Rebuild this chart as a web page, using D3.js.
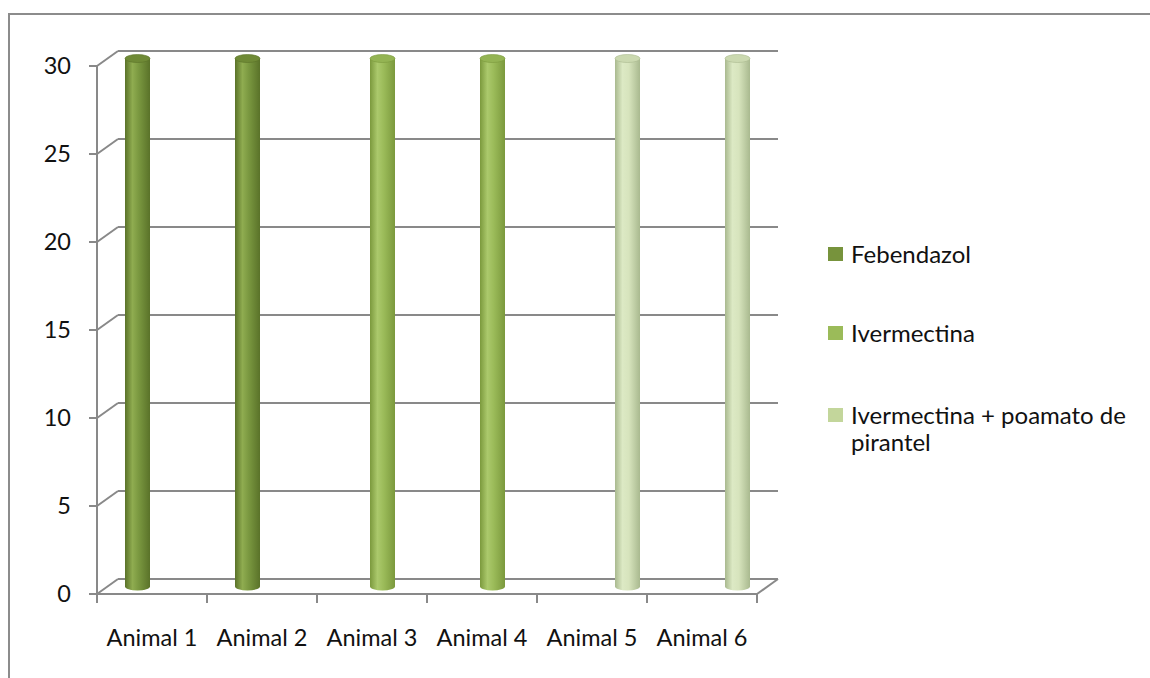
<!DOCTYPE html>
<html>
<head>
<meta charset="utf-8">
<script src="https://cdn.jsdelivr.net/npm/d3@7"></script>
<style>
  html, body { margin: 0; padding: 0; background: #fff; }
  svg { display: block; }
  text { font-family: Lato, "Open Sans", sans-serif; fill: #111; }
</style>
</head>
<body>
<svg id="chart" width="1150" height="678"></svg>
<script>
// ---- data ----
const categories = ["Animal 1", "Animal 2", "Animal 3", "Animal 4", "Animal 5", "Animal 6"];
const seriesNames = ["Febendazol", "Ivermectina", "Ivermectina + poamato de pirantel"];
const febendazol   = [30, 30, null, null, null, null];
const ivermectina  = [null, null, 30, 30, null, null];
const ivermectinaP = [null, null, null, null, 30, 30];
const yTicks = [0, 5, 10, 15, 20, 25, 30];

const seriesValues = [febendazol, ivermectina, ivermectinaP];
const seriesColors = [
  { base: "#7a9840", dark: "#5a7229", light: "#8fac50", top: "#6f8a36", legend: "#77933C" },
  { base: "#9BBB59", dark: "#7b993d", light: "#abc96c", top: "#94b453", legend: "#9BBB59" },
  { base: "#D7E4BD", dark: "#a9b98f", light: "#dce9c4", top: "#cbd9b0", legend: "#C3D69B" }
];

const svg = d3.select("#chart");
const defs = svg.append("defs");

// outer frame
svg.append("rect")
  .attr("x", 9).attr("y", 14).attr("width", 1160).attr("height", 700)
  .attr("fill", "none").attr("stroke", "#8c8c8c").attr("stroke-width", 2);

// geometry
const x0 = 97, x1 = 757;
const depthX = 21, depthY = -15;
const x = d3.scaleBand().domain(categories).range([x0, x1]).paddingInner(0).paddingOuter(0);
const y = d3.scaleLinear().domain([0, 30]).range([594, 66]);
const xs = d3.scaleBand().domain(d3.range(seriesNames.length)).range([-37.5, 37.5]);

const gridColor = "#898989";
const grid = svg.append("g").attr("stroke", gridColor).attr("stroke-width", 2).attr("fill", "none");

// back wall gridlines and side wall diagonals
yTicks.forEach(t => {
  grid.append("line")
    .attr("x1", x0 + depthX).attr("x2", x1 + depthX)
    .attr("y1", y(t) + depthY).attr("y2", y(t) + depthY);
  grid.append("line")
    .attr("x1", x0).attr("x2", x0 + depthX)
    .attr("y1", y(t)).attr("y2", y(t) + depthY);
});
// floor right diagonal
grid.append("line")
  .attr("x1", x1).attr("x2", x1 + depthX)
  .attr("y1", y(0)).attr("y2", y(0) + depthY);

// cylinders
const cyl = svg.append("g");
seriesValues.forEach((vals, si) => {
  const c = seriesColors[si];
  const gid = "g" + si;
  const g = defs.append("linearGradient").attr("id", gid)
    .attr("x1", "0%").attr("x2", "100%").attr("y1", "0%").attr("y2", "0%");
  g.append("stop").attr("offset", "0%").attr("stop-color", c.dark);
  g.append("stop").attr("offset", "30%").attr("stop-color", c.light);
  g.append("stop").attr("offset", "55%").attr("stop-color", c.base);
  g.append("stop").attr("offset", "100%").attr("stop-color", c.dark);

  vals.forEach((v, i) => {
    if (v == null) return;
    const cx = x(categories[i]) + x.bandwidth() / 2 + xs(si) + xs.bandwidth() / 2 + depthX / 2;
    const r = xs.bandwidth() / 2;
    const ry = 4;
    const yt = y(v) + depthY / 2;
    const yb = y(0) + depthY / 2;
    const grp = cyl.append("g");
    grp.append("path")
      .attr("d", `M${cx - r},${yt} L${cx - r},${yb} A${r},${ry} 0 0 0 ${cx + r},${yb} L${cx + r},${yt} Z`)
      .attr("fill", `url(#${gid})`);
    grp.append("ellipse")
      .attr("cx", cx).attr("cy", yt).attr("rx", r).attr("ry", ry)
      .attr("fill", c.top).attr("stroke", c.dark).attr("stroke-width", 0.6);
  });
});

// axes lines (front)
const axisG = svg.append("g").attr("stroke", gridColor).attr("stroke-width", 2);
axisG.append("line").attr("x1", x0).attr("x2", x0).attr("y1", y(30)).attr("y2", y(0) + 9);
axisG.append("line").attr("x1", x0).attr("x2", x1).attr("y1", y(0)).attr("y2", y(0));
yTicks.forEach(t => {
  axisG.append("line").attr("x1", x0 - 8).attr("x2", x0).attr("y1", y(t)).attr("y2", y(t));
});
categories.forEach(c => {
  axisG.append("line").attr("x1", x(c)).attr("x2", x(c)).attr("y1", y(0)).attr("y2", y(0) + 9);
});
axisG.append("line").attr("x1", x1).attr("x2", x1).attr("y1", y(0)).attr("y2", y(0) + 9);

// y labels
svg.append("g").selectAll("text").data(yTicks).join("text")
  .attr("x", 71).attr("y", d => y(d)).attr("dy", "0.36em")
  .attr("text-anchor", "end").attr("font-size", 23.5)
  .text(d => d);

// x labels
svg.append("g").selectAll("text").data(categories).join("text")
  .attr("x", d => x(d) + x.bandwidth() / 2).attr("y", 646)
  .attr("text-anchor", "middle").attr("font-size", 23.5)
  .text(d => d);

// legend
const legendRows = [
  { lines: ["Febendazol"], y: 254 },
  { lines: ["Ivermectina"], y: 333 },
  { lines: ["Ivermectina + poamato de", "pirantel"], y: 415 }
];
const leg = svg.append("g");
legendRows.forEach((row, i) => {
  leg.append("rect").attr("x", 828).attr("y", row.y - 7).attr("width", 15).attr("height", 14)
    .attr("fill", seriesColors[i].legend);
  const t = leg.append("text").attr("x", 851).attr("y", row.y).attr("font-size", 24);
  row.lines.forEach((ln, k) => {
    t.append("tspan").attr("x", 851).attr("dy", k === 0 ? "0.36em" : 27).text(ln);
  });
});
</script>
</body>
</html>
